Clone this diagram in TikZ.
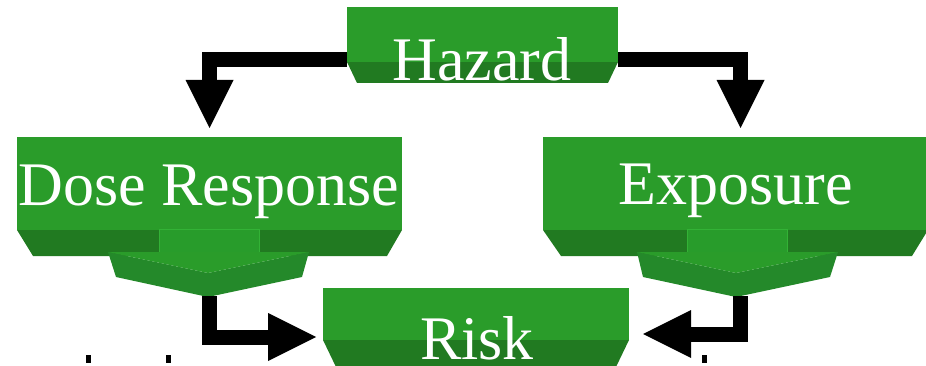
\documentclass[tikz,border=0pt]{standalone}
\usepackage{fontspec}
\setmainfont{Liberation Serif}
\usetikzlibrary{arrows.meta,calc}
\definecolor{facegreen}{HTML}{2A9C2A}
\definecolor{bevelgreen}{HTML}{217A21}
\definecolor{stemgreen}{HTML}{289C2B}
\definecolor{stemedge}{HTML}{33B236}
\definecolor{headgreen}{HTML}{24892A}
\tikzset{
  face/.style={fill=facegreen, draw=none, rectangle, inner sep=0pt, outer sep=0pt},
  bevel/.style={fill=bevelgreen},
  stem/.style={fill=stemgreen, draw=stemedge, line width=0.8pt},
  headtop/.style={fill=facegreen},
  headlow/.style={fill=headgreen},
  boxtext/.style={text=white, font=\fontsize{62}{62}\selectfont, anchor=base,
    inner sep=0pt, text depth=0pt},
  conn/.style={draw=black, line width=15pt, line join=miter,
    -{Triangle[width=48pt,length=48pt,line width=0pt]}}
}
\begin{document}
\begin{tikzpicture}[x=1pt,y=-1pt]
  \useasboundingbox (0,0) rectangle (926,366);
  \clip (0,0) rectangle (926,366);

  % Hazard block
  \fill[bevel] (347,62) -- (618,62) -- (608,83) -- (357,83) -- cycle;
  \node[face, minimum width=271pt, minimum height=55pt] (hazard) at (482.5,34.5) {};

  % Dose Response block with its downward chevron
  \fill[bevel] (17,230) -- (402,230) -- (387,256) -- (33,256) -- cycle;
  \node[face, minimum width=385pt, minimum height=93pt] (dose) at (209.5,183.5) {};
  \filldraw[stem] (159,229) rectangle (259,253);
  \fill[headlow] (108,252) -- (116,277) -- (208,297) -- (302,277) -- (309,252) -- (208,273) -- cycle;
  \fill[headtop] (108,252) -- (309,252) -- (208,273) -- cycle;
  \coordinate (doseout) at (209.5,296);

  % Exposure block with its downward chevron
  \fill[bevel] (543,230) -- (928,230) -- (912,256) -- (561,256) -- cycle;
  \node[face, minimum width=385pt, minimum height=93pt] (expo) at (735.5,183.5) {};
  \filldraw[stem] (687,229) rectangle (787,253);
  \fill[headlow] (637,252) -- (643,277) -- (736,297) -- (830,277) -- (838,252) -- (736,273) -- cycle;
  \fill[headtop] (637,252) -- (838,252) -- (736,273) -- cycle;
  \coordinate (expoout) at (740.5,296);

  % Risk block
  \fill[bevel] (323,340) -- (629,340) -- (616,367) -- (336,367) -- cycle;
  \node[face, minimum width=306pt, minimum height=52pt] (risk) at (476,314) {};

  % Connectors
  \draw[conn] ([yshift=-25.5pt]hazard.west) -| ([yshift=9pt]dose.north);
  \draw[conn] ([yshift=-25.5pt]hazard.east) -| ([xshift=5pt,yshift=9pt]expo.north);
  \draw[conn] (doseout) |- ([xshift=-7pt,yshift=-23pt]risk.west);
  \draw[conn] (expoout) |- ([xshift=14pt,yshift=-20pt]risk.east);

  % Labels
  \node[boxtext] (hazardlabel) at (482,81) {Hazard};
  \node[boxtext] (doselabel) at (209,206) {Dose Response};
  \node[boxtext] (expolabel) at (735.5,205) {Exposure};
  \node[boxtext] (risklabel) at (477,359) {Risk};

  % Marks along the lower edge
  \fill (86,355) rectangle (91,363);
  \fill (166,355) rectangle (171,363);
  \fill (702,355) rectangle (707,363);
\end{tikzpicture}
\end{document}
